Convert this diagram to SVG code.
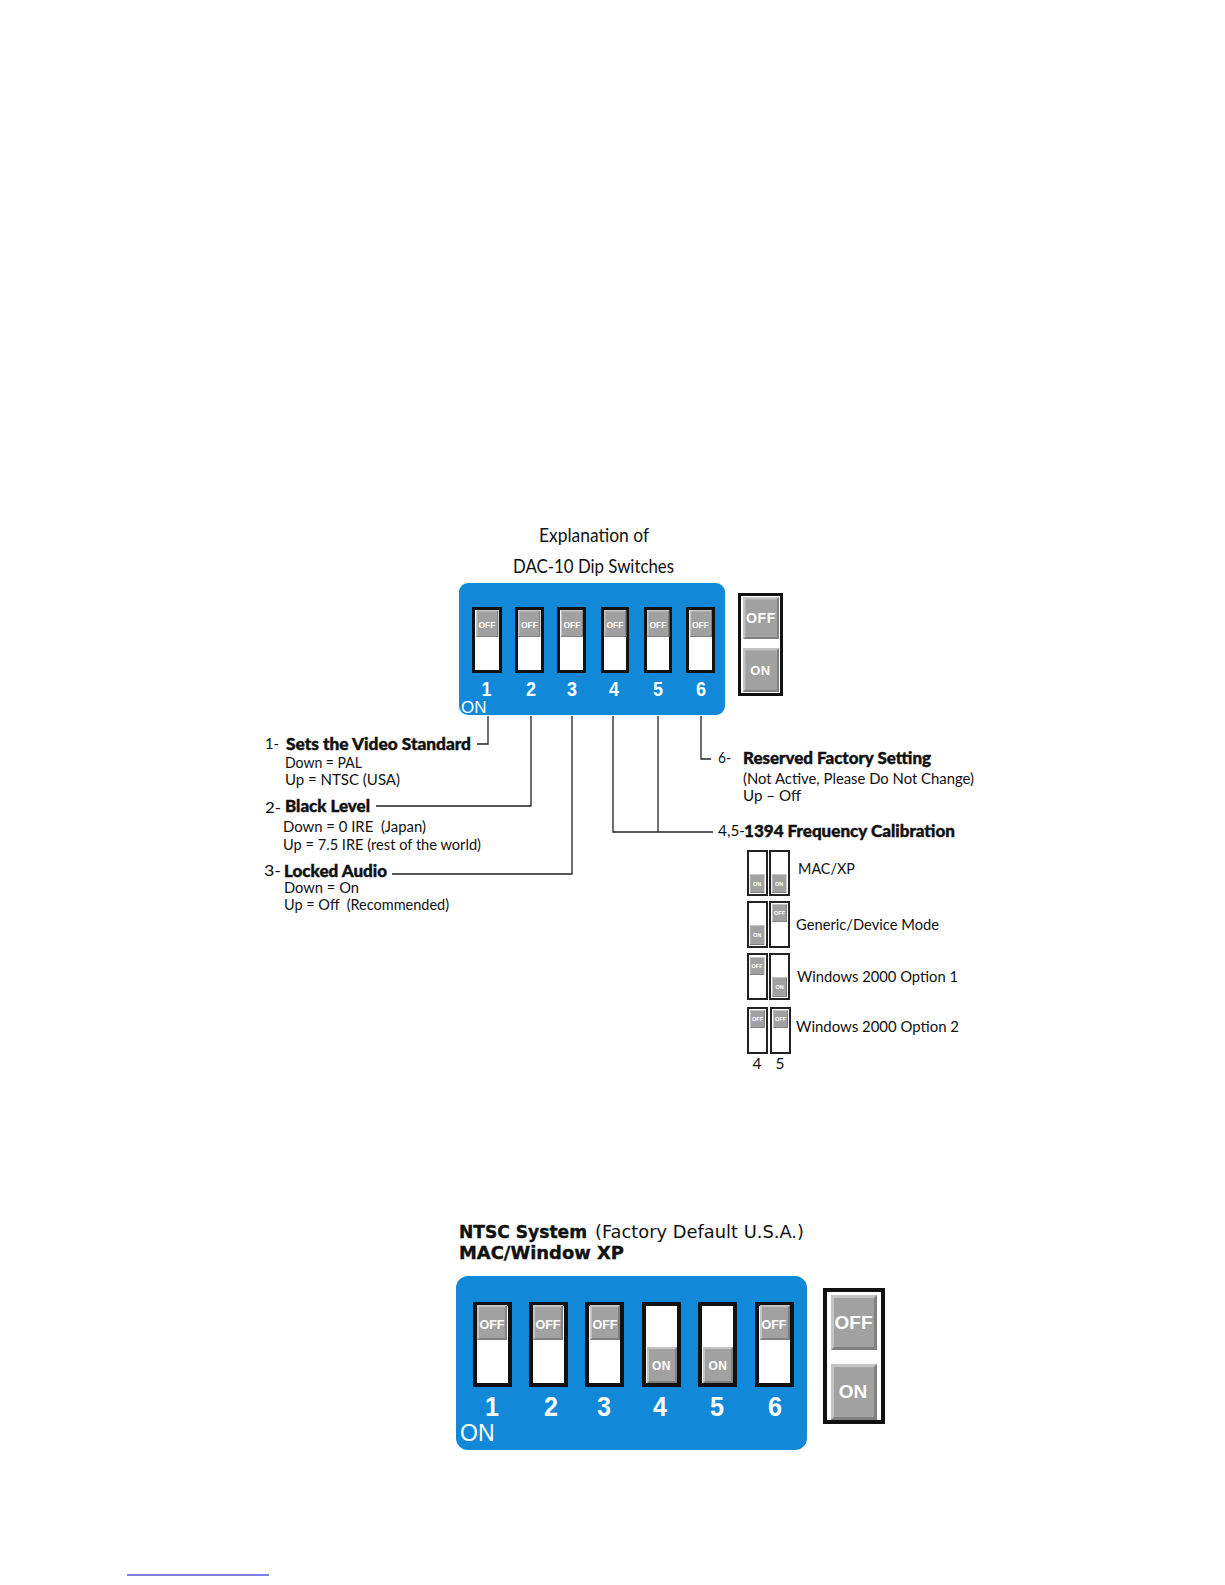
<svg xmlns="http://www.w3.org/2000/svg" width="1225" height="1585" viewBox="0 0 1225 1585">
<defs>
<style>
text{fill:#111;font-family:"Lato","Noto Sans",sans-serif;font-size:15.5px}
.b{font-weight:900;font-size:16px;stroke:#111;stroke-width:.4px}
.w{fill:#fff;font-family:"Liberation Sans",Arial,sans-serif}
.wb{fill:#fff;font-family:"Liberation Sans",Arial,sans-serif;font-weight:bold;text-anchor:middle}
.gl{fill:#fff;font-family:"Liberation Sans",Arial,sans-serif;font-weight:bold;text-anchor:middle}
.v{font-family:"DejaVu Sans",Verdana,sans-serif;font-size:18px;fill:#111}
.panel{fill:#1189d8}
.sw{fill:#fff;stroke:#111;stroke-width:3}
.sw2{fill:#fff;stroke:#111;stroke-width:4}
.ss{fill:#fff;stroke:#222;stroke-width:2}
.c{fill:none;stroke:#222;stroke-width:1.3}
</style>
<symbol id="knob" viewBox="0 0 30 36" preserveAspectRatio="none">
<rect width="30" height="36" fill="#c4c4c4"/>
<path d="M30 0V36H0L2 34H28V2Z" fill="#808080"/>
<rect x="2" y="2" width="26" height="32" fill="#a1a1a1"/>
</symbol>
</defs>
<rect width="1225" height="1585" fill="#fff"/>

<g id="title-top">
<text x="539" y="542" style="font-size:19px" textLength="110" lengthAdjust="spacingAndGlyphs">Explanation of</text>
<text x="513" y="573" style="font-size:19px" textLength="161" lengthAdjust="spacingAndGlyphs">DAC-10 Dip Switches</text>
</g>

<g id="connectors">
<path class="c" d="M488 716V744H477"/>
<path class="c" d="M531 716V806H376"/>
<path class="c" d="M572 716V874H392"/>
<path class="c" d="M613 716V832H713"/>
<path class="c" d="M658 716V832"/>
<path class="c" d="M701 716V759H711"/>
</g>

<g id="dip-panel-top">
<rect class="panel" x="459" y="583" width="266" height="132" rx="9"/>
<g id="top-sw1"><rect class="sw" x="473.500" y="608.500" width="27" height="63"/><use href="#knob" x="476" y="610" width="22.500" height="27"/><text class="gl" x="487" y="628" style="font-size:8.500px">OFF</text></g>
<g id="top-sw2"><rect class="sw" x="516.500" y="608.500" width="26" height="63"/><use href="#knob" x="518" y="610" width="22.500" height="27"/><text class="gl" x="529.500" y="628" style="font-size:8.500px">OFF</text></g>
<g id="top-sw3"><rect class="sw" x="558.500" y="608.500" width="26" height="63"/><use href="#knob" x="560.500" y="610" width="22.500" height="27"/><text class="gl" x="572" y="628" style="font-size:8.500px">OFF</text></g>
<g id="top-sw4"><rect class="sw" x="602.500" y="608.500" width="25" height="63"/><use href="#knob" x="604" y="610" width="22.500" height="27"/><text class="gl" x="615" y="628" style="font-size:8.500px">OFF</text></g>
<g id="top-sw5"><rect class="sw" x="645.500" y="608.500" width="25" height="63"/><use href="#knob" x="647" y="610" width="22.500" height="27"/><text class="gl" x="658" y="628" style="font-size:8.500px">OFF</text></g>
<g id="top-sw6"><rect class="sw" x="687.500" y="608.500" width="26" height="63"/><use href="#knob" x="689.500" y="610" width="22.500" height="27"/><text class="gl" x="700.500" y="628" style="font-size:8.500px">OFF</text></g>
<text class="wb" x="486.500" y="696" style="font-size:21px" textLength="10" lengthAdjust="spacingAndGlyphs">1</text>
<text class="wb" x="531" y="696" style="font-size:21px" textLength="10" lengthAdjust="spacingAndGlyphs">2</text>
<text class="wb" x="572" y="696" style="font-size:21px" textLength="10" lengthAdjust="spacingAndGlyphs">3</text>
<text class="wb" x="614" y="696" style="font-size:21px" textLength="10" lengthAdjust="spacingAndGlyphs">4</text>
<text class="wb" x="658" y="696" style="font-size:21px" textLength="10" lengthAdjust="spacingAndGlyphs">5</text>
<text class="wb" x="701" y="696" style="font-size:21px" textLength="10" lengthAdjust="spacingAndGlyphs">6</text>
<text class="w" x="461" y="713" style="font-size:17px">ON</text>
</g>

<g id="legend-top">
<rect class="sw" x="739.500" y="594.500" width="42" height="100"/>
<use href="#knob" x="743" y="597" width="36" height="42"/>
<use href="#knob" x="743" y="648" width="36" height="44"/>
<text class="gl" x="761" y="623" style="font-size:14px;letter-spacing:.6px">OFF</text>
<text class="gl" x="760.500" y="675" style="font-size:13px;letter-spacing:.6px">ON</text>
</g>

<g id="label-1">
<text x="265" y="749" textLength="14" lengthAdjust="spacingAndGlyphs">1-</text>
<text class="b" x="286" y="750" textLength="185" lengthAdjust="spacingAndGlyphs">Sets the Video Standard</text>
<text x="285" y="768" textLength="77" lengthAdjust="spacingAndGlyphs">Down = PAL</text>
<text x="285" y="785" textLength="115" lengthAdjust="spacingAndGlyphs">Up = NTSC (USA)</text>
</g>
<g id="label-2">
<text x="265" y="813" textLength="16" lengthAdjust="spacingAndGlyphs">2-</text>
<text class="b" x="285" y="812" textLength="85" lengthAdjust="spacingAndGlyphs">Black Level</text>
<text x="283" y="832" textLength="143" lengthAdjust="spacingAndGlyphs" xml:space="preserve">Down = 0 IRE  (Japan)</text>
<text x="283" y="850" textLength="198" lengthAdjust="spacingAndGlyphs">Up = 7.5 IRE (rest of the world)</text>
</g>
<g id="label-3">
<text x="264" y="876" textLength="17" lengthAdjust="spacingAndGlyphs">3-</text>
<text class="b" x="284" y="877" textLength="103" lengthAdjust="spacingAndGlyphs">Locked Audio</text>
<text x="284" y="893" textLength="75" lengthAdjust="spacingAndGlyphs">Down = On</text>
<text x="284" y="910" textLength="165" lengthAdjust="spacingAndGlyphs" xml:space="preserve">Up = Off  (Recommended)</text>
</g>
<g id="label-6">
<text x="718" y="763" textLength="13" lengthAdjust="spacingAndGlyphs">6-</text>
<text class="b" x="743" y="764" textLength="188" lengthAdjust="spacingAndGlyphs">Reserved Factory Setting</text>
<text x="743" y="784" textLength="231" lengthAdjust="spacingAndGlyphs">(Not Active, Please Do Not Change)</text>
<text x="743" y="801" textLength="58" lengthAdjust="spacingAndGlyphs">Up – Off</text>
</g>
<g id="label-45">
<text x="718" y="836" textLength="27" lengthAdjust="spacingAndGlyphs">4,5-</text>
<text class="b" x="744" y="837" textLength="211" lengthAdjust="spacingAndGlyphs">1394 Frequency Calibration</text>
</g>

<g id="mode-mac">
<rect class="ss" x="748" y="851" width="19" height="44"/><rect class="ss" x="770" y="851" width="19" height="44"/>
<use href="#knob" x="749.500" y="874" width="15" height="19"/><use href="#knob" x="771.500" y="874" width="15" height="19"/>
<text class="gl" x="757" y="886" style="font-size:5.500px">ON</text><text class="gl" x="779" y="886" style="font-size:5.500px">ON</text>
<text x="798" y="874" textLength="57" lengthAdjust="spacingAndGlyphs">MAC/XP</text>
</g>
<g id="mode-generic">
<rect class="ss" x="748" y="902" width="19" height="45"/><rect class="ss" x="770" y="902" width="19" height="45"/>
<use href="#knob" x="749.500" y="925" width="15" height="20"/><use href="#knob" x="772" y="904" width="15" height="18"/>
<text class="gl" x="757" y="937" style="font-size:5.500px">ON</text><text class="gl" x="779.500" y="915" style="font-size:5.500px">OFF</text>
<text x="796" y="930" textLength="143" lengthAdjust="spacingAndGlyphs">Generic/Device Mode</text>
</g>
<g id="mode-win1">
<rect class="ss" x="748" y="954" width="19" height="45"/><rect class="ss" x="770" y="954" width="19" height="45"/>
<use href="#knob" x="749.500" y="957" width="15" height="18"/><use href="#knob" x="772" y="977" width="15" height="20"/>
<text class="gl" x="757" y="968" style="font-size:5.500px">OFF</text><text class="gl" x="779.500" y="989" style="font-size:5.500px">ON</text>
<text x="797" y="982" textLength="161" lengthAdjust="spacingAndGlyphs">Windows 2000 Option 1</text>
</g>
<g id="mode-win2">
<rect class="ss" x="748" y="1008" width="19" height="45"/><rect class="ss" x="771" y="1008" width="19" height="45"/>
<use href="#knob" x="750" y="1010" width="15" height="18"/><use href="#knob" x="773" y="1010" width="15" height="18"/>
<text class="gl" x="757.500" y="1021" style="font-size:5.500px">OFF</text><text class="gl" x="780.500" y="1021" style="font-size:5.500px">OFF</text>
<text x="796" y="1032" textLength="163" lengthAdjust="spacingAndGlyphs">Windows 2000 Option 2</text>
<text x="757" y="1069" text-anchor="middle">4</text>
<text x="780" y="1069" text-anchor="middle">5</text>
</g>

<g id="title-bottom">
<text class="v" x="459" y="1238" font-weight="bold" textLength="128" lengthAdjust="spacingAndGlyphs" style="stroke:#111;stroke-width:.4px">NTSC System</text>
<text class="v" x="595" y="1238" textLength="209" lengthAdjust="spacingAndGlyphs">(Factory Default U.S.A.)</text>
<text class="v" x="459" y="1259" font-weight="bold" textLength="165" lengthAdjust="spacingAndGlyphs" style="stroke:#111;stroke-width:.4px">MAC/Window XP</text>
</g>

<g id="dip-panel-bottom">
<rect class="panel" x="456" y="1276" width="351" height="174" rx="12"/>
<g id="bot-sw1"><rect class="sw2" x="475" y="1304" width="35" height="81"/><use href="#knob" x="477" y="1305" width="30" height="35"/><text class="gl" x="492" y="1329" style="font-size:12.500px">OFF</text></g>
<g id="bot-sw2"><rect class="sw2" x="531" y="1304" width="35" height="81"/><use href="#knob" x="533" y="1305" width="30" height="35"/><text class="gl" x="548" y="1329" style="font-size:12.500px">OFF</text></g>
<g id="bot-sw3"><rect class="sw2" x="587" y="1304" width="35" height="81"/><use href="#knob" x="590" y="1305" width="30" height="35"/><text class="gl" x="605" y="1329" style="font-size:12.500px">OFF</text></g>
<g id="bot-sw4"><rect class="sw2" x="644" y="1304" width="35" height="81"/><use href="#knob" x="647" y="1347" width="30" height="36"/><text class="gl" x="661.500" y="1370" style="font-size:12px;letter-spacing:.5px">ON</text></g>
<g id="bot-sw5"><rect class="sw2" x="700" y="1304" width="35" height="81"/><use href="#knob" x="703" y="1347" width="30" height="36"/><text class="gl" x="718" y="1370" style="font-size:12px;letter-spacing:.5px">ON</text></g>
<g id="bot-sw6"><rect class="sw2" x="757" y="1304" width="35" height="81"/><use href="#knob" x="760" y="1305" width="30" height="35"/><text class="gl" x="774" y="1329" style="font-size:12.500px">OFF</text></g>
<text class="wb" x="492" y="1416" style="font-size:27px" textLength="14" lengthAdjust="spacingAndGlyphs">1</text>
<text class="wb" x="551" y="1416" style="font-size:27px" textLength="14" lengthAdjust="spacingAndGlyphs">2</text>
<text class="wb" x="604" y="1416" style="font-size:27px" textLength="14" lengthAdjust="spacingAndGlyphs">3</text>
<text class="wb" x="660" y="1416" style="font-size:27px" textLength="14" lengthAdjust="spacingAndGlyphs">4</text>
<text class="wb" x="717" y="1416" style="font-size:27px" textLength="14" lengthAdjust="spacingAndGlyphs">5</text>
<text class="wb" x="775" y="1416" style="font-size:27px" textLength="14" lengthAdjust="spacingAndGlyphs">6</text>
<text class="w" x="460" y="1441" style="font-size:23px">ON</text>
</g>

<g id="legend-bottom">
<rect class="sw2" x="825" y="1290" width="58" height="132"/>
<use href="#knob" x="831" y="1295" width="46" height="55"/>
<use href="#knob" x="831" y="1364" width="46" height="56"/>
<text class="gl" x="853.500" y="1329" style="font-size:19px">OFF</text>
<text class="gl" x="853" y="1398" style="font-size:19px">ON</text>
</g>

<rect id="link-underline" x="127" y="1574.500" width="142" height="1" fill="#0000cc"/>
</svg>
